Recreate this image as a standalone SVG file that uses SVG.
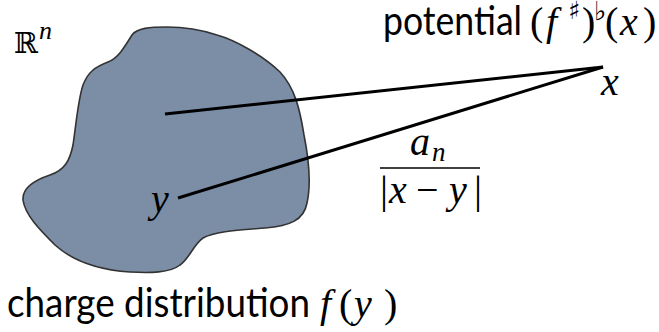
<svg xmlns="http://www.w3.org/2000/svg" width="659" height="332" viewBox="0 0 659 332">
<style>
.sans{font-family:Lato,"Liberation Sans",sans-serif;fill:#000}
.m{font-family:"Liberation Serif","DejaVu Serif",serif;font-style:italic;fill:#000}
.mu{font-family:"Liberation Serif","DejaVu Serif",serif;font-style:normal;fill:#000}
.sym{font-family:"DejaVu Sans",sans-serif;fill:#000}
.conn{stroke:#000;stroke-width:3;fill:none}
</style>
<rect width="659" height="332" fill="#fff"/>
<g id="region">
<path d="M132,35 C137,28 150,27 167,27 C190,27 205,31 217,35 C235,40 262,55 280,72 C295,88 300,110 304,135 C309,160 311,185 307,203 C304,220 290,226 265,228 C240,230 215,231 203,238 C193,245 190,258 180,265 C170,273 150,273 130,272 C100,270 75,263 55,245 C40,230 25,215 23,200 C22,187 35,180 50,175 C65,170 70,160 73,145 C76,125 78,100 83,85 C88,72 95,67 108,62 C118,58 124,48 132,35 Z" fill="#7b8ea6" stroke="#333" stroke-width="1.6"/>
<text x="14" y="53" font-family="DejaVu Serif,serif" font-size="29">ℝ</text>
<text x="39" y="39" class="m" font-size="26">n</text>
</g>
<g id="connectors">
<line class="conn" x1="165" y1="114" x2="603" y2="67"/>
<line class="conn" x1="178" y1="198" x2="603" y2="67"/>
</g>
<g id="point-y">
<text x="151" y="212" class="m" font-size="40">y</text>
</g>
<g id="point-x">
<text x="601" y="95" class="m" font-size="40">x</text>
</g>
<g id="kernel">
<text x="410" y="155" class="m" font-size="40">a</text>
<text x="432" y="161" class="m" font-size="27">n</text>
<line x1="380" y1="168" x2="480" y2="168" stroke="#000" stroke-width="1.5"/>
<text x="380" y="203" class="mu" font-size="40">|</text>
<text x="389" y="203" class="m" font-size="40">x</text>
<text x="416" y="203" class="mu" font-size="40">−</text>
<text x="449" y="203" class="m" font-size="40">y</text>
<text x="474" y="203" class="mu" font-size="40">|</text>
</g>
<g id="potential">
<text x="383" y="35" class="sans" font-size="40" textLength="139" lengthAdjust="spacingAndGlyphs">potential</text>
<text x="530" y="35" class="mu" font-size="40">(</text>
<text x="546" y="35" class="m" font-size="40">f</text>
<text x="568" y="19" class="sym" font-size="25">♯</text>
<text x="582" y="35" class="mu" font-size="40">)</text>
<text x="594" y="20" class="sym" font-size="26">♭</text>
<text x="605" y="35" class="mu" font-size="40">(</text>
<text x="620" y="35" class="m" font-size="40">x</text>
<text x="643" y="35" class="mu" font-size="40">)</text>
</g>
<g id="charge">
<text x="7" y="317" class="sans" font-size="40" textLength="303" lengthAdjust="spacingAndGlyphs">charge distribution</text>
<text x="320" y="317" class="m" font-size="40">f</text>
<text x="339" y="317" class="mu" font-size="40">(</text>
<text x="354" y="317" class="m" font-size="40">y</text>
<text x="384" y="317" class="mu" font-size="40">)</text>
</g>
</svg>
